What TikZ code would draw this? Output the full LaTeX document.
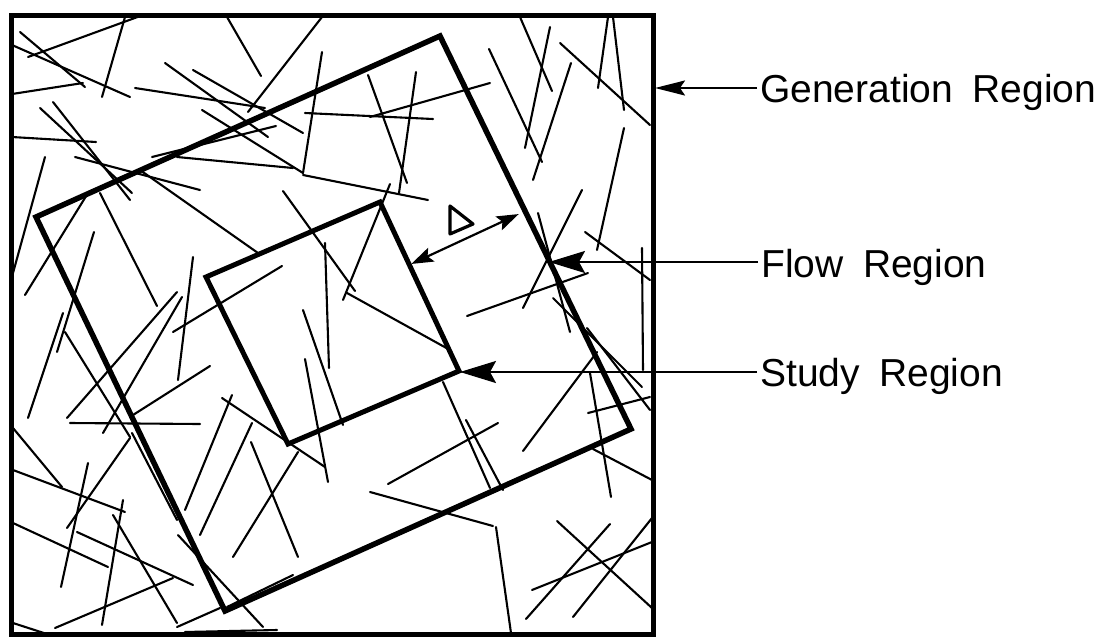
\documentclass[tikz,border=0pt]{standalone}
\usepackage{fontspec}
\setmainfont{Liberation Sans}
\usetikzlibrary{arrows.meta}
\begin{document}
\begin{tikzpicture}[x=1pt,y=-1pt,
  frac/.style={line width=2.1pt, line cap=round},
  outerbox/.style={line width=5pt, line join=miter},
  regionbox/.style={line width=5.5pt, line join=miter},
  lbl/.style={inner sep=0pt, font=\fontsize{39}{46}\selectfont},
  bigarr/.style={line width=2.2pt, -{Stealth[length=36pt 0,width=22pt 0,inset=6pt 0]}},
  genarr/.style={line width=2.2pt, -{Stealth[length=30pt 0,width=15pt 0,inset=5pt 0]}},
  delarr/.style={line width=2.2pt, {Stealth[length=22pt 0,width=15pt 0,inset=4pt 0]}-{Stealth[length=22pt 0,width=15pt 0,inset=4pt 0]}}]
\useasboundingbox (0,0) rectangle (1114,638);

% fractures (scene), clipped to the generation region
\begin{scope}
\clip (11,15) rectangle (653,634);
\foreach \a/\b/\c/\d in {
 28/57/143/15, 125/17/102/97, 20/32/85/87, 12/45/130/97, 12/94/83/83,
 135/88/265/108, 165/63/268/137, 193/70/303/133, 227/17/261/76, 322/17/248/112,
 322/52/303/173, 305/113/433/119, 40/108/132/193, 53/102/130/200, 12/137/96/142,
 202/110/303/173, 303/175/428/200, 152/157/276/126, 75/157/200/190, 45/157/13/273,
 283/191/355/291, 140/170/258/253, 177/157/293/168, 100/193/157/306, 88/193/25/295,
 520/17/552/91, 550/27/525/148, 489/49/542/162, 571/63/533/180, 560/43/650/125,
 608/17/598/88, 613/17/624/110, 624/128/597/250, 368/75/407/183, 416/72/399/193,
 370/117/490/83, 390/184/343/300, 582/190/523/308,
 94/232/57/352, 63/313/28/418, 65/332/130/437, 193/257/178/380, 173/332/282/266,
 177/292/67/418, 182/297/103/433, 210/366/133/415, 303/310/343/425, 305/359/328/482,
 222/398/325/467, 232/395/185/510,
 347/293/450/350, 325/243/329/368, 538/213/570/332, 585/232/650/280, 642/248/643/370,
 467/316/588/273, 553/298/642/387, 443/382/490/488, 466/420/503/490, 587/328/650/410,
 597/352/523/451, 590/373/611/497, 588/413/650/397,
 13/428/62/487, 13/470/125/512, 13/523/108/567, 88/463/61/587, 130/438/67/528,
 123/500/102/625, 113/515/177/623, 77/532/193/585, 55/628/173/578, 13/623/50/635,
 70/423/200/424, 252/423/200/535, 251/442/298/557, 298/452/233/557, 178/535/263/627,
 293/575/227/607, 177/627/220/608, 185/632/277/630, 132/433/177/520,
 498/423/388/484, 593/449/652/480, 370/492/493/526, 496/527/511/633, 557/521/652/608,
 610/524/526/619, 652/518/573/617, 532/590/652/542}
 \draw[frac] (\a,\b) -- (\c,\d);
\end{scope}

% generation region
\draw[outerbox] (11,15) rectangle (653,634);

% flow region
\coordinate (FT) at (440,36);
\coordinate (FL) at (36,217);
\coordinate (FB) at (225,611);
\coordinate (FR) at (631,429);
\draw[regionbox] (FT) -- (FL) -- (FB) -- (FR) -- cycle;

% study region
\coordinate (ST) at (380,202);
\coordinate (SL) at (206,277);
\coordinate (SB) at (288,444);
\coordinate (SR) at (459,371);
\draw[regionbox, line width=5pt] (ST) -- (SL) -- (SB) -- (SR) -- cycle;

% Delta offset arrow
\coordinate (dS) at (409,265);
\coordinate (dF) at (521,213);
\draw[delarr, shorten <=2.5pt, shorten >=2.5pt] (dS) -- (dF);
\draw[line width=3.2pt, line join=round] (450,206) -- (473,224) -- (450,234) -- cycle;

% labels
\node[lbl, anchor=base west] (gen) at (760,102) {Generation\hspace{0.5em}Region};
\node[lbl, anchor=base west] (flow) at (761,277) {Flow\hspace{0.5em}Region};
\node[lbl, anchor=base west] (study) at (760,386) {Study\hspace{0.5em}Region};

\coordinate (genTip) at (655,88);
\coordinate (flowTip) at (549,262);
\coordinate (studyTip) at (460,372);
\coordinate (genEnd) at (757,88);
\coordinate (flowEnd) at (758,262);
\coordinate (studyEnd) at (757,372);
\draw[genarr] (genEnd) -- (genTip);
\draw[bigarr] (flowEnd) -- (flowTip);
\draw[bigarr] (studyEnd) -- (studyTip);
\end{tikzpicture}
\end{document}
